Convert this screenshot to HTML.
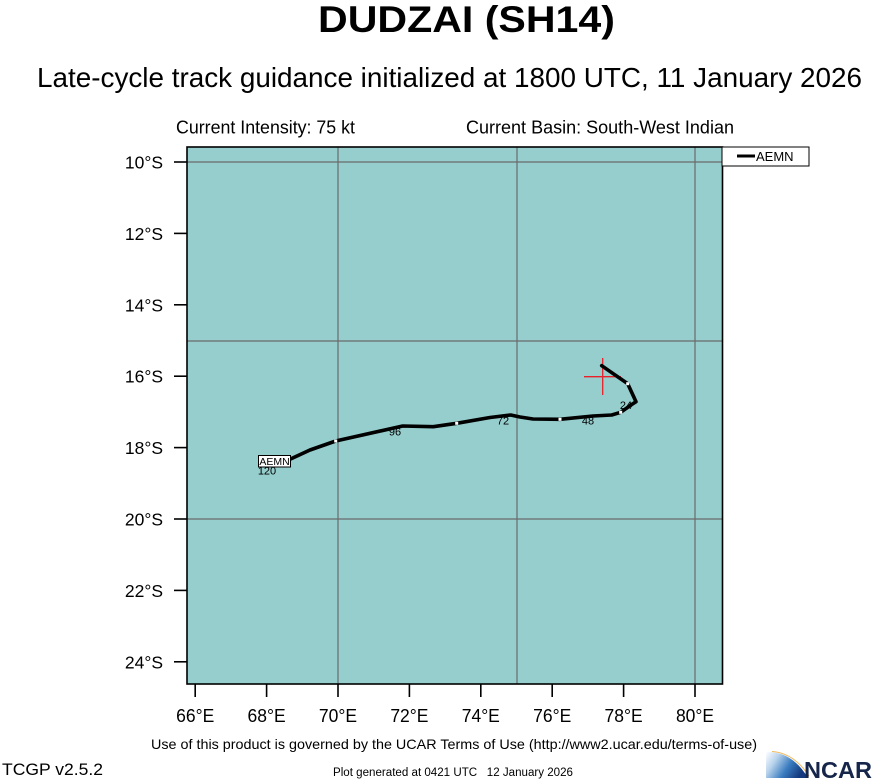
<!DOCTYPE html>
<html><head><meta charset="utf-8"><style>
html,body{margin:0;padding:0;background:#fff;}
svg{display:block;font-family:"Liberation Sans",Arial,sans-serif;}
</style></head><body>
<svg width="873" height="780" viewBox="0 0 873 780" xmlns="http://www.w3.org/2000/svg">
<defs>
<linearGradient id="sw" x1="0" y1="0" x2="1" y2="0.4">
<stop offset="0" stop-color="#ffffff"/>
<stop offset="0.3" stop-color="#b8d3ec"/>
<stop offset="0.65" stop-color="#3a7cc0"/>
<stop offset="1" stop-color="#14397e"/>
</linearGradient>
</defs>
<rect width="873" height="780" fill="#fff"/>
<text x="318" y="32" font-size="37" font-weight="bold" textLength="297" lengthAdjust="spacingAndGlyphs">DUDZAI (SH14)</text>
<text x="37" y="87" font-size="28" textLength="825" lengthAdjust="spacingAndGlyphs">Late-cycle track guidance initialized at 1800 UTC, 11 January 2026</text>
<text x="176" y="133.5" font-size="18" textLength="179" lengthAdjust="spacingAndGlyphs">Current Intensity: 75 kt</text>
<text x="466" y="133.5" font-size="18" textLength="268" lengthAdjust="spacingAndGlyphs">Current Basin: South-West Indian</text>

<!-- plot area -->
<rect x="187" y="147" width="535.5" height="537" fill="#96cece"/>
<g stroke="#6a6a6a" stroke-width="1.2">
<line x1="338" y1="147" x2="338" y2="684"/>
<line x1="517" y1="147" x2="517" y2="684"/>
<line x1="695" y1="147" x2="695" y2="684"/>
<line x1="187" y1="162" x2="722.5" y2="162"/>
<line x1="187" y1="341" x2="722.5" y2="341"/>
<line x1="187" y1="519" x2="722.5" y2="519"/>
</g>
<rect x="187" y="147" width="535.5" height="537" fill="none" stroke="#000" stroke-width="1.6"/>

<!-- ticks -->
<g stroke="#000" stroke-width="1.6">
<line x1="195.2" y1="684" x2="195.2" y2="697"/>
<line x1="266.6" y1="684" x2="266.6" y2="697"/>
<line x1="338" y1="684" x2="338" y2="697"/>
<line x1="409.4" y1="684" x2="409.4" y2="697"/>
<line x1="480.8" y1="684" x2="480.8" y2="697"/>
<line x1="552.2" y1="684" x2="552.2" y2="697"/>
<line x1="623.6" y1="684" x2="623.6" y2="697"/>
<line x1="695" y1="684" x2="695" y2="697"/>
<line x1="174" y1="162" x2="187" y2="162"/>
<line x1="174" y1="233.4" x2="187" y2="233.4"/>
<line x1="174" y1="304.8" x2="187" y2="304.8"/>
<line x1="174" y1="376.2" x2="187" y2="376.2"/>
<line x1="174" y1="447.6" x2="187" y2="447.6"/>
<line x1="174" y1="519" x2="187" y2="519"/>
<line x1="174" y1="590.4" x2="187" y2="590.4"/>
<line x1="174" y1="661.8" x2="187" y2="661.8"/>
</g>
<g font-size="17.5" text-anchor="middle">
<text x="195.2" y="722" transform="translate(0,722) scale(1,1.06) translate(0,-722)">66°E</text>
<text x="266.6" y="722" transform="translate(0,722) scale(1,1.06) translate(0,-722)">68°E</text>
<text x="338" y="722" transform="translate(0,722) scale(1,1.06) translate(0,-722)">70°E</text>
<text x="409.4" y="722" transform="translate(0,722) scale(1,1.06) translate(0,-722)">72°E</text>
<text x="480.8" y="722" transform="translate(0,722) scale(1,1.06) translate(0,-722)">74°E</text>
<text x="552.2" y="722" transform="translate(0,722) scale(1,1.06) translate(0,-722)">76°E</text>
<text x="623.6" y="722" transform="translate(0,722) scale(1,1.06) translate(0,-722)">78°E</text>
<text x="695" y="722" transform="translate(0,722) scale(1,1.06) translate(0,-722)">80°E</text>
</g>
<g font-size="17.5" text-anchor="end">
<text x="163" y="168.5">10°S</text>
<text x="163" y="239.9">12°S</text>
<text x="163" y="311.3">14°S</text>
<text x="163" y="382.7">16°S</text>
<text x="163" y="454.1">18°S</text>
<text x="163" y="525.5">20°S</text>
<text x="163" y="596.9">22°S</text>
<text x="163" y="668.3">24°S</text>
</g>

<!-- forecast hour labels -->
<g font-size="11" text-anchor="middle">
<text x="626" y="409">24</text>
<text x="588" y="424.5">48</text>
<text x="503" y="424.5">72</text>
<text x="395" y="435.5">96</text>
<text x="267" y="474.5">120</text>
</g>

<!-- red cross -->
<g stroke="#e8202a" stroke-width="1.3">
<line x1="584" y1="376.7" x2="621" y2="376.7"/>
<line x1="602.7" y1="358" x2="602.7" y2="395"/>
</g>

<!-- track -->
<polyline fill="none" stroke="#000" stroke-width="3.6" stroke-linejoin="round" stroke-linecap="round"
points="601.7,365.7 627.7,383.7 636,401.7 631.7,404.5 620.7,412.3 611.7,415 593,416 560,419.3 533,419 520,417 510.7,415 490,417.5 456.7,423.3 433.3,426.7 402.7,426 335.7,441 310,450 290,459.3"/>
<g fill="#fff">
<rect x="626.2" y="382.2" width="3" height="3"/>
<rect x="619.2" y="410.8" width="3" height="3"/>
<rect x="558.5" y="417.8" width="3" height="3"/>
<rect x="455.2" y="421.8" width="3" height="3"/>
<rect x="334.2" y="439.5" width="3" height="3"/>
</g>

<!-- AEMN end label -->
<rect x="258.5" y="455.5" width="32" height="11.5" fill="#fff" stroke="#000" stroke-width="1"/>
<text x="274.5" y="465" font-size="10.5" text-anchor="middle">AEMN</text>

<!-- legend -->
<rect x="722" y="147" width="87" height="19" fill="#fff" stroke="#000" stroke-width="1"/>
<line x1="737" y1="156" x2="755" y2="156" stroke="#000" stroke-width="3"/>
<text x="756" y="161" font-size="13">AEMN</text>

<!-- footer -->
<text x="151" y="749" font-size="14" textLength="606" lengthAdjust="spacingAndGlyphs">Use of this product is governed by the UCAR Terms of Use (http://www2.ucar.edu/terms-of-use)</text>
<text x="333" y="776" font-size="11.5" textLength="240" lengthAdjust="spacingAndGlyphs" xml:space="preserve">Plot generated at 0421 UTC   12 January 2026</text>
<text x="2" y="775" font-size="17" textLength="101" lengthAdjust="spacingAndGlyphs">TCGP v2.5.2</text>

<!-- NCAR logo -->
<path d="M766 778 L766 752 Q792 751 808 778 Z" fill="url(#sw)"/>
<path d="M772 751.5 Q794 753 809 776" fill="none" stroke="#f0b860" stroke-width="1"/>
<text x="804" y="778" font-size="23" font-weight="bold" fill="#16254a" textLength="68" lengthAdjust="spacingAndGlyphs">NCAR</text>
</svg>
</body></html>
